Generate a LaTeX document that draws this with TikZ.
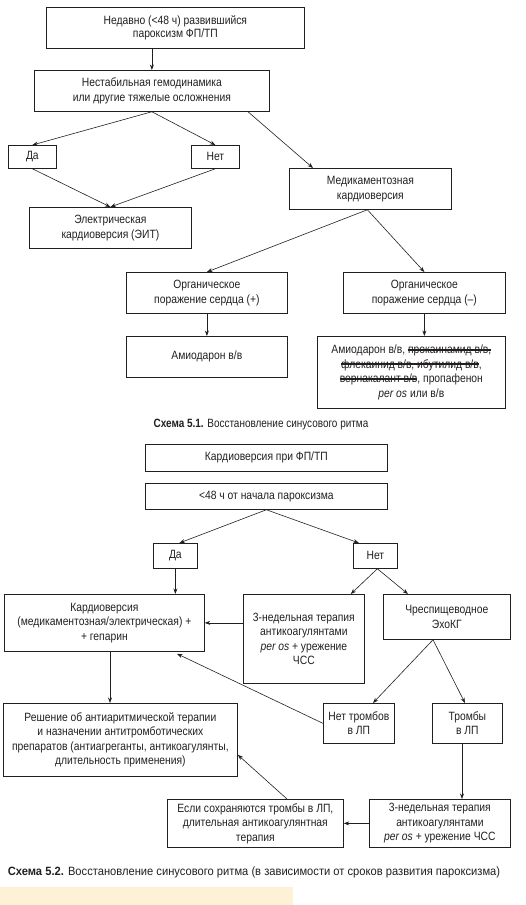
\documentclass[tikz,border=0pt]{standalone}
\usepackage{fontspec}
\setmainfont{Liberation Sans}[FakeStretch=0.86]
\newfontfamily\capone{Liberation Sans}[FakeStretch=0.83]
\newfontfamily\captwo{Liberation Sans}[FakeStretch=0.93]
\usetikzlibrary{arrows.meta,calc}
\definecolor{inkc}{HTML}{231F20}
\definecolor{paleyel}{HTML}{FDF1D6}
\newcommand\strk[1]{\setbox0\hbox{#1}\rlap{\rule[0.26em]{\wd0}{2.1pt}}\box0}
\begin{document}
\begin{tikzpicture}[x=1pt,y=-1pt,
  box/.style={draw=inkc, line width=0.75pt, align=center, inner sep=0pt, anchor=north west,
    text=inkc, font=\fontsize{12}{14.5}\selectfont},
  conn/.style={draw=inkc, line width=0.6pt},
  arr/.style={conn, -{Stealth[length=5.5pt,width=4pt]}},
  capt/.style={text=inkc, inner sep=0pt}]
\useasboundingbox (0,0) rectangle (526,905);
% ---------- Scheme 5.1 ----------
\node[box, minimum width=258pt, minimum height=41pt, font=\fontsize{12}{12.5}\selectfont] (b1) at (46,7) {Недавно (<48 ч) развившийся\\пароксизм ФП/ТП};
\node[box, minimum width=235pt, minimum height=41pt, font=\fontsize{12}{15.5}\selectfont] (b2) at (34,70) {Нестабильная гемодинамика\\или другие тяжелые осложнения};
\node[box, minimum width=48pt, minimum height=23pt] (da1) at (8,145) {Да};
\node[box, minimum width=48pt, minimum height=23pt] (net1) at (191,145) {Нет};
\node[box, minimum width=162pt, minimum height=41pt] (med) at (289,168) {Медикаментозная\\кардиоверсия};
\node[box, minimum width=162pt, minimum height=41pt] (el) at (29,207) {Электрическая\\кардиоверсия (ЭИТ)};
\node[box, minimum width=161pt, minimum height=41pt] (orgp) at (126,272) {Органическое\\поражение сердца (+)};
\node[box, minimum width=162pt, minimum height=41pt] (orgm) at (343,272) {Органическое\\поражение сердца (–)};
\node[box, minimum width=161pt, minimum height=41pt] (amio) at (126,336) {Амиодарон в/в};
\node[box, minimum width=188pt, minimum height=72pt] (rbox) at (317,336) {Амиодарон в/в, \strk{прокаинамид в/в,}\\\strk{флекаинид в/в, ибутилид в/в},\\\strk{вернакалант в/в}, пропафенон\\\textit{per os} или в/в};
\node[capt, font=\capone\fontsize{12}{14}\selectfont] (cap1) at (261,425) {\textbf{Схема 5.1.} Восстановление синусового ритма};
\draw[arr] (b2.north |- b1.south) -- (b2.north);
\draw[arr] (b2.south) -- (da1.north);
\draw[arr] (b2.south) -- (net1.north);
\draw[arr] ($(b2.south west)+(214,0)$) -- ($(med.north west)+(24,0)$);
\draw[arr] (da1.south) -- (el.north);
\draw[arr] (net1.south) -- (el.north);
\draw[arr] ($(med.south)+(-3,0)$) -- (orgp.north);
\draw[arr] ($(med.south)+(-3,0)$) -- (orgm.north);
\draw[arr] (orgp.south) -- (amio.north);
\draw[arr] (orgm.south) -- (orgm.south |- rbox.north);
% ---------- Scheme 5.2 ----------
\node[box, minimum width=242pt, minimum height=27pt] (k1) at (145,444) {Кардиоверсия при ФП/ТП};
\node[box, minimum width=242pt, minimum height=26pt] (k2) at (145,483) {<48 ч от начала пароксизма};
\node[box, minimum width=44pt, minimum height=25pt] (da2) at (153,543) {Да};
\node[box, minimum width=44pt, minimum height=25pt] (net2) at (353,543) {Нет};
\node[box, minimum width=200pt, minimum height=57pt] (kard) at (4,594) {Кардиоверсия\\(медикаментозная/электрическая) +\\+ гепарин};
\node[box, minimum width=121pt, minimum height=89pt] (ned1) at (243,594) {3-недельная терапия\\антикоагулянтами\\\textit{per os} + урежение\\ЧСС};
\node[box, minimum width=127pt, minimum height=45pt] (chr) at (383,594) {Чреспищеводное\\ЭхоКГ};
\node[box, minimum width=234pt, minimum height=73pt] (resh) at (3,703) {Решение об антиаритмической терапии\\и назначении антитромботических\\препаратов (антиагреганты, антикоагулянты,\\длительность применения)};
\node[box, minimum width=71pt, minimum height=40pt] (netr) at (323,703) {Нет тромбов\\в ЛП};
\node[box, minimum width=70pt, minimum height=40pt] (tromb) at (432,703) {Тромбы\\в ЛП};
\node[box, minimum width=176pt, minimum height=48pt] (esli) at (167,799) {Если сохраняются тромбы в ЛП,\\длительная антикоагулянтная\\терапия};
\node[box, minimum width=141pt, minimum height=48pt] (ned2) at (369,799) {3-недельная терапия\\антикоагулянтами\\\textit{per os} + урежение ЧСС};
\node[capt, font=\captwo\fontsize{12}{14}\selectfont] (cap2) at (254,872) {\textbf{Схема 5.2.} Восстановление синусового ритма (в зависимости от сроков развития пароксизма)};
\draw[arr] (k2.south) -- ($(da2.north)+(4,0)$);
\draw[arr] (k2.south) -- ($(net2.north west)+(6,0)$);
\draw[arr] (da2.south) -- (da2.south |- kard.north);
\draw[arr] ($(net2.south)+(2,0)$) -- ($(ned1.north east)+(-14,0)$);
\draw[arr] ($(net2.south)+(2,0)$) -- ($(chr.north west)+(25,0)$);
\draw[arr] (ned1.west |- kard.east) -- (kard.east);
\draw[arr] ($(chr.south west)+(50,0)$) -- ($(netr.north west)+(50,0)$);
\draw[arr] ($(chr.south west)+(50,0)$) -- ($(tromb.north west)+(33,0)$);
\draw[arr] (netr.west) -- ($(kard.south west)+(173,2)$);
\draw[arr] ($(kard.south west)+(106,0)$) -- ($(resh.north west)+(107,0)$);
\draw[arr] ($(tromb.south west)+(30,0)$) -- ($(ned2.north west)+(93,0)$);
\draw[arr] ($(esli.north west)+(120,0)$) -- ($(resh.south east)+(0,-22)$);
\draw[arr] (ned2.west) -- (esli.east);
\fill[paleyel] (0,887) rectangle (293,905);
\end{tikzpicture}
\end{document}
